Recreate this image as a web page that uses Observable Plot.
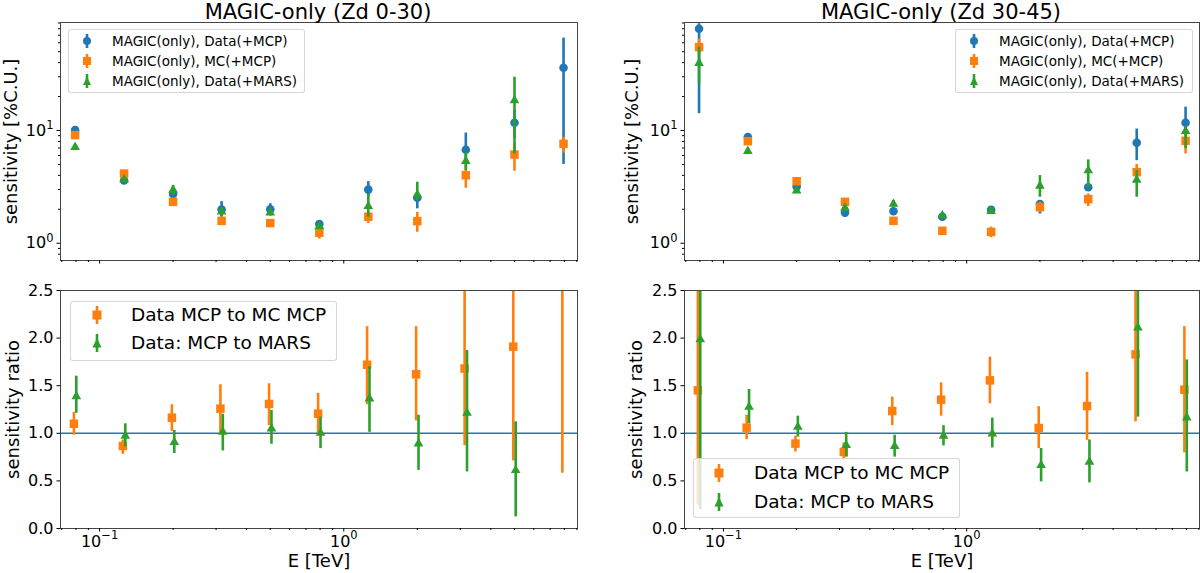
<!DOCTYPE html>
<html>
<head>
<meta charset="utf-8">
<script src="https://cdn.jsdelivr.net/npm/d3@7"></script>
<script src="https://cdn.jsdelivr.net/npm/@observablehq/plot@0.6"></script>
<style>
  body { margin: 0; background: white; font-family: "DejaVu Sans", sans-serif; }
  #chart { position: relative; width: 1200px; height: 573px; overflow: hidden; background: white; }
  #chart > svg { position: absolute; }
  .title { position: absolute; top: 0px; width: 400px; font-size: 21px; line-height: 24.4px; text-align: center; color: black; }
  .legend { position: absolute; box-sizing: border-box; background: rgba(255,255,255,0.8); border: 1px solid rgba(204,204,204,0.8); border-radius: 3px; }
  .legend .txt { position: absolute; white-space: nowrap; color: black; }
  .legend svg { position: absolute; }
</style>
</head>
<body>
<div id="chart"></div>
<script>
// energy bin centres [TeV]
const energy = [0.0794, 0.126, 0.2, 0.316, 0.5, 0.794, 1.26, 2.0, 3.16, 5.0, 7.94];

// Zd 0-30 sensitivity [%C.U.]
const zd030DataMcp = [10.1, 3.6, 2.74, 1.99, 2.0, 1.48, 2.99, 2.53, 6.74, 11.7, 36];
const zd030DataMcpLo = [9.6, 3.4, 2.6, 1.70, 1.82, 1.39, 2.56, 2.02, 5.0, 8.5, 5.0];
const zd030DataMcpHi = [10.6, 3.8, 2.9, 2.34, 2.24, 1.59, 3.52, 2.74, 9.5, 15.0, 66];
const zd030McMcp = [9.1, 4.15, 2.33, 1.58, 1.51, 1.24, 1.72, 1.57, 4.01, 6.12, 7.62];
const zd030McMcpLo = [8.6, 3.95, 2.2, 1.5, 1.44, 1.09, 1.50, 1.25, 3.08, 4.36, 6.3];
const zd030McMcpHi = [9.6, 4.4, 2.46, 1.66, 1.58, 1.34, 1.88, 1.88, 5.06, 7.62, 8.7];
const zd030DataMars = [7.11, 3.67, 2.97, 1.90, 1.87, 1.42, 2.13, 2.70, 5.35, 18.5, null];
const zd030DataMarsLo = [6.8, 3.5, 2.65, 1.75, 1.74, 1.33, 1.70, 2.39, 4.4, 6.2, null];
const zd030DataMarsHi = [7.5, 3.85, 3.25, 2.05, 2.0, 1.52, 2.74, 3.48, 6.4, 29.7, null];

// Zd 30-45 sensitivity [%C.U.]
const zd3045DataMcp = [79.9, 8.73, 3.18, 1.87, 1.92, 1.72, 1.98, 2.23, 3.14, 7.78, 11.7];
const zd3045DataMcpLo = [14.1, 8.3, 3.0, 1.70, 1.8, 1.62, 1.85, 1.82, 2.9, 5.4, 9.3];
const zd3045DataMcpHi = [88.5, 9.2, 3.4, 2.09, 2.05, 1.83, 2.11, 2.39, 3.4, 10.3, 16.1];
const zd3045McMcp = [54.9, 8.04, 3.55, 2.33, 1.58, 1.29, 1.26, 2.09, 2.46, 4.27, 8.09];
const zd3045McMcpLo = [46, 7.6, 3.35, 2.2, 1.5, 1.2, 1.12, 1.88, 2.12, 3.6, 6.2];
const zd3045McMcpHi = [65, 8.5, 3.75, 2.47, 1.66, 1.38, 1.39, 2.31, 2.74, 5.0, 9.3];
const zd3045DataMars = [39.6, 6.56, 2.93, 2.06, 2.23, 1.76, 1.92, 3.23, 4.42, 3.65, 9.86];
const zd3045DataMarsLo = [25.9, 6.2, 2.78, 1.92, 2.08, 1.66, 1.8, 2.56, 3.14, 2.56, 6.9];
const zd3045DataMarsHi = [54.9, 6.9, 3.08, 2.2, 2.4, 1.86, 2.05, 3.98, 5.49, 4.42, 10.8];

// sensitivity ratios, Zd 0-30
const zd030RatioMc = [1.10, 0.867, 1.164, 1.259, 1.308, 1.206, 1.72, 1.62, 1.68, 1.91, 4.7];
const zd030RatioMcLo = [0.98, 0.78, 1.02, 1.0, 1.08, 1.0, 1.3, 1.13, 0.87, 0.71, 0.58];
const zd030RatioMcHi = [1.22, 0.93, 1.30, 1.51, 1.52, 1.42, 2.12, 2.12, 2.9, 3.2, 9.0];
const zd030RatioMars = [1.388, 0.972, 0.906, 1.014, 1.049, 1.003, 1.364, 0.892, 1.213, 0.612, null];
const zd030RatioMarsLo = [1.21, 0.857, 0.787, 0.815, 0.885, 0.839, 1.01, 0.61, 0.594, 0.122, null];
const zd030RatioMarsHi = [1.60, 1.10, 1.03, 1.2, 1.24, 1.17, 1.70, 1.19, 1.87, 1.12, null];

// sensitivity ratios, Zd 30-45
const zd3045RatioMc = [1.451, 1.059, 0.892, 0.804, 1.234, 1.353, 1.556, 1.056, 1.287, 1.829, 1.458];
const zd3045RatioMcLo = [0.245, 0.934, 0.804, 0.717, 1.08, 1.18, 1.31, 0.839, 0.927, 1.12, 0.794];
const zd3045RatioMcHi = [2.8, 1.19, 0.97, 0.90, 1.38, 1.53, 1.80, 1.28, 1.64, 2.6, 2.12];
const zd3045RatioMars = [1.986, 1.276, 1.066, 0.874, 0.864, 0.972, 0.997, 0.664, 0.699, 2.108, 1.164];
const zd3045RatioMarsLo = [0.20, 1.10, 0.96, 0.75, 0.75, 0.867, 0.846, 0.49, 0.479, 1.17, 0.594];
const zd3045RatioMarsHi = [3.5, 1.46, 1.18, 1.01, 0.98, 1.08, 1.16, 0.84, 0.93, 3.0, 1.77];

// ticks (powers of ten drawn as base "10" plus a raised exponent)
const xMajor = [0.1, 1];
const xMajorExp = ["−1", "0"];
const sensMajor = [1, 10];
const sensMajorExp = ["0", "1"];
const ratioTicks = [0, 0.5, 1, 1.5, 2, 2.5];
const ratioTickText = ["0.0", "0.5", "1.0", "1.5", "2.0", "2.5"];

const blue = "#1f77b4", orange = "#ff7f0e", green = "#2ca02c";
const xDomain = [10 ** -1.16, 10 ** 0.957];
const sensDomain = [10 ** -0.153, 10 ** 1.958];

const decades = [0.01, 0.1, 1, 10];
const minorIn = dom => decades.flatMap(d => [2, 3, 4, 5, 6, 7, 8, 9].map(m => +(m * d).toPrecision(3)))
  .filter(v => v > dom[0] && v < dom[1]);

const FS = 16, SUP = 11.5;
// rough DejaVu Sans advance widths, to centre "10^e" on its tick
const textWidth = (s, fs) => [...s].reduce((w, c) => w + (c === "−" ? 0.838 : 0.636) * fs, 0);

const chart = document.getElementById("chart");

function rowsOf(v, lo, hi) {
  return energy.map((e, i) => ({e, v: v[i], lo: lo[i], hi: hi[i]})).filter(d => d.v != null);
}

function panel(p) {
  const marks = [];
  if (p.hline != null) marks.push(Plot.ruleY([p.hline], {stroke: blue, strokeWidth: 1.5}));
  for (const s of p.series) {
    const rows = rowsOf(s.v, s.lo, s.hi);
    marks.push(Plot.ruleX(rows, {x: "e", y1: "lo", y2: "hi", stroke: s.color, strokeWidth: 2.6, dx: s.dx || 0, clip: true}));
    marks.push(Plot.dot(rows, {x: "e", y: "v", symbol: s.symbol, r: s.r, fill: s.color, dx: s.dx || 0, clip: true}));
  }
  marks.push(Plot.frame({stroke: "#444", strokeWidth: 1}));

  // x axis: minor and major ticks, labels only on the lower row
  marks.push(Plot.axisX({ticks: minorIn(xDomain), tickSize: 2, tickFormat: () => "", label: null}));
  marks.push(Plot.axisX({ticks: xMajor, tickSize: 3.5, tickFormat: () => "", label: null}));
  if (p.xText) {
    xMajor.forEach((t, i) => {
      const base = textWidth("10", FS), sup = textWidth(xMajorExp[i], SUP);
      marks.push(Plot.axisX({ticks: [t], tickSize: 0, tickPadding: 7, fontSize: FS, tickFormat: () => "10",
        dx: -sup / 2, label: null}));
      marks.push(Plot.axisX({ticks: [t], tickSize: 0, tickPadding: 7, fontSize: SUP, tickFormat: () => xMajorExp[i],
        textAnchor: "start", dx: base / 2 - sup / 2, dy: -5, label: null}));
    });
  }
  if (p.xLabel) marks.push(Plot.axisX({ticks: [], label: p.xLabel, labelAnchor: "center", labelArrow: "none", labelOffset: 38, fontSize: 18}));

  // y axis
  if (p.yMinor) marks.push(Plot.axisY({ticks: p.yMinor, tickSize: 2, tickFormat: () => "", label: null}));
  if (p.yExp) {
    marks.push(Plot.axisY({ticks: p.yTicks, tickSize: 3.5, tickFormat: () => "", label: null}));
    const sup = textWidth(p.yExp[0], SUP);
    marks.push(Plot.axisY({ticks: p.yTicks, tickSize: 0, tickPadding: 7, fontSize: FS, tickFormat: () => "10",
      dx: -sup, label: null}));
    marks.push(Plot.axisY({ticks: p.yTicks, tickSize: 0, tickPadding: 7, fontSize: SUP,
      tickFormat: d => p.yExp[p.yTicks.indexOf(d)], dy: -5, label: null}));
  } else {
    marks.push(Plot.axisY({ticks: p.yTicks, tickSize: 3.5, tickPadding: 3.5, fontSize: FS,
      tickFormat: d => p.yText[p.yTicks.indexOf(d)], label: null}));
  }
  marks.push(Plot.axisY({ticks: [], label: p.yLabel, labelAnchor: "center", labelArrow: "none", labelOffset: p.yLabelOffset, fontSize: 18}));

  const svg = Plot.plot({
    width: 600,
    height: p.height,
    marginLeft: p.ml, marginRight: p.mr, marginTop: p.mt, marginBottom: p.mb,
    x: {type: "log", domain: xDomain},
    y: {type: p.yType, domain: p.yDomain},
    style: {fontFamily: "DejaVu Sans", color: "black", background: "white", overflow: "visible"},
    marks
  });
  svg.style.left = p.left + "px";
  svg.style.top = p.top + "px";
  chart.append(svg);
}

const sensSeries = (a, aLo, aHi, b, bLo, bHi, c, cLo, cHi) => [
  {v: a, lo: aLo, hi: aHi, color: blue, symbol: "circle", r: 4.3},
  {v: b, lo: bLo, hi: bHi, color: orange, symbol: "square", r: 4.8},
  {v: c, lo: cLo, hi: cHi, color: green, symbol: "triangle", r: 3.6}
];
const ratioSeries = (a, aLo, aHi, b, bLo, bHi) => [
  {v: a, lo: aLo, hi: aHi, color: orange, symbol: "square", r: 4.8, dx: -1.2},
  {v: b, lo: bLo, hi: bHi, color: green, symbol: "triangle", r: 3.6, dx: 1.2}
];

const sensLabel = "sensitivity [%C.U.]";
const ratioLabel = "sensitivity ratio";

panel({left: 0, top: 0, height: 270, ml: 60, mr: 23, mt: 22, mb: 10, yType: "log", yDomain: sensDomain,
  yTicks: sensMajor, yExp: sensMajorExp, yMinor: minorIn(sensDomain), yLabel: sensLabel, yLabelOffset: 56,
  series: sensSeries(zd030DataMcp, zd030DataMcpLo, zd030DataMcpHi, zd030McMcp, zd030McMcpLo, zd030McMcpHi,
    zd030DataMars, zd030DataMarsLo, zd030DataMarsHi)});
panel({left: 600, top: 0, height: 270, ml: 84, mr: 1, mt: 22, mb: 10, yType: "log", yDomain: sensDomain,
  yTicks: sensMajor, yExp: sensMajorExp, yMinor: minorIn(sensDomain), yLabel: sensLabel, yLabelOffset: 59,
  series: sensSeries(zd3045DataMcp, zd3045DataMcpLo, zd3045DataMcpHi, zd3045McMcp, zd3045McMcpLo, zd3045McMcpHi,
    zd3045DataMars, zd3045DataMarsLo, zd3045DataMarsHi)});
panel({left: 0, top: 270, height: 303, ml: 60, mr: 23, mt: 20, mb: 45, yType: "linear", yDomain: [0, 2.5],
  yTicks: ratioTicks, yText: ratioTickText, yLabel: ratioLabel, yLabelOffset: 54, hline: 1, xText: true, xLabel: "E [TeV]",
  series: ratioSeries(zd030RatioMc, zd030RatioMcLo, zd030RatioMcHi, zd030RatioMars, zd030RatioMarsLo, zd030RatioMarsHi)});
panel({left: 600, top: 270, height: 303, ml: 84, mr: 1, mt: 20, mb: 45, yType: "linear", yDomain: [0, 2.5],
  yTicks: ratioTicks, yText: ratioTickText, yLabel: ratioLabel, yLabelOffset: 55, hline: 1, xText: true, xLabel: "E [TeV]",
  series: ratioSeries(zd3045RatioMc, zd3045RatioMcLo, zd3045RatioMcHi, zd3045RatioMars, zd3045RatioMarsLo, zd3045RatioMarsHi)});

// titles
function title(text, cx) {
  const d = document.createElement("div");
  d.className = "title";
  d.textContent = text;
  d.style.left = (cx - 200) + "px";
  chart.append(d);
}
title("MAGIC-only (Zd 0-30)", 318);
title("MAGIC-only (Zd 30-45)", 941);

// legends
function icon(symbol, color, barH, size) {
  const w = 20, h = barH + 4, cx = w / 2, cy = h / 2, s = size / 2;
  let m;
  if (symbol === "circle") m = `<circle cx="${cx}" cy="${cy}" r="${s}" fill="${color}"/>`;
  else if (symbol === "square") m = `<rect x="${cx - s}" y="${cy - s}" width="${size}" height="${size}" fill="${color}"/>`;
  else m = `<polygon points="${cx},${cy - s - 0.5} ${cx + s},${cy + s} ${cx - s},${cy + s}" fill="${color}"/>`;
  return `<svg width="${w}" height="${h}"><line x1="${cx}" x2="${cx}" y1="2" y2="${h - 2}" stroke="${color}" stroke-width="2.6"/>${m}</svg>`;
}
function legend(box, items, o) {
  const d = document.createElement("div");
  d.className = "legend";
  Object.assign(d.style, {left: box.x + "px", top: box.y + "px", width: box.w + "px", height: box.h + "px"});
  items.forEach((it, i) => {
    const cy = o.rows[i] - box.y - 1;
    const wrap = document.createElement("div");
    wrap.innerHTML = icon(it.symbol, it.color, o.barH, o.size);
    const ic = wrap.firstChild;
    ic.style.left = (o.markerX - box.x - 1 - 10) + "px";
    ic.style.top = (cy - (o.barH + 4) / 2) + "px";
    d.append(ic);
    const t = document.createElement("div");
    t.className = "txt";
    t.textContent = it.label;
    Object.assign(t.style, {left: (o.textX - box.x - 1) + "px", top: (cy - 0.58 * o.fs) + "px",
      fontSize: o.fs + "px", lineHeight: (1.2 * o.fs) + "px"});
    d.append(t);
  });
  chart.append(d);
}
const sensItems = [
  {label: "MAGIC(only), Data(+MCP)", color: blue, symbol: "circle"},
  {label: "MAGIC(only), MC(+MCP)", color: orange, symbol: "square"},
  {label: "MAGIC(only), Data(+MARS)", color: green, symbol: "triangle"}
];
const ratioItems = [
  {label: "Data MCP to MC MCP", color: orange, symbol: "square"},
  {label: "Data: MCP to MARS", color: green, symbol: "triangle"}
];
legend({x: 68, y: 29, w: 237, h: 64}, sensItems, {rows: [41, 61, 81], markerX: 87, textX: 112, fs: 13.5, barH: 14, size: 8});
legend({x: 955, y: 29, w: 238, h: 64}, sensItems, {rows: [41, 61, 81], markerX: 974, textX: 999, fs: 13.5, barH: 14, size: 8});
legend({x: 70, y: 301, w: 267, h: 60}, ratioItems, {rows: [315, 343], markerX: 97, textX: 131, fs: 18.5, barH: 18, size: 9});
legend({x: 693, y: 458, w: 267, h: 60}, ratioItems, {rows: [473, 502], markerX: 719, textX: 754, fs: 18.5, barH: 18, size: 9});
</script>
</body>
</html>
